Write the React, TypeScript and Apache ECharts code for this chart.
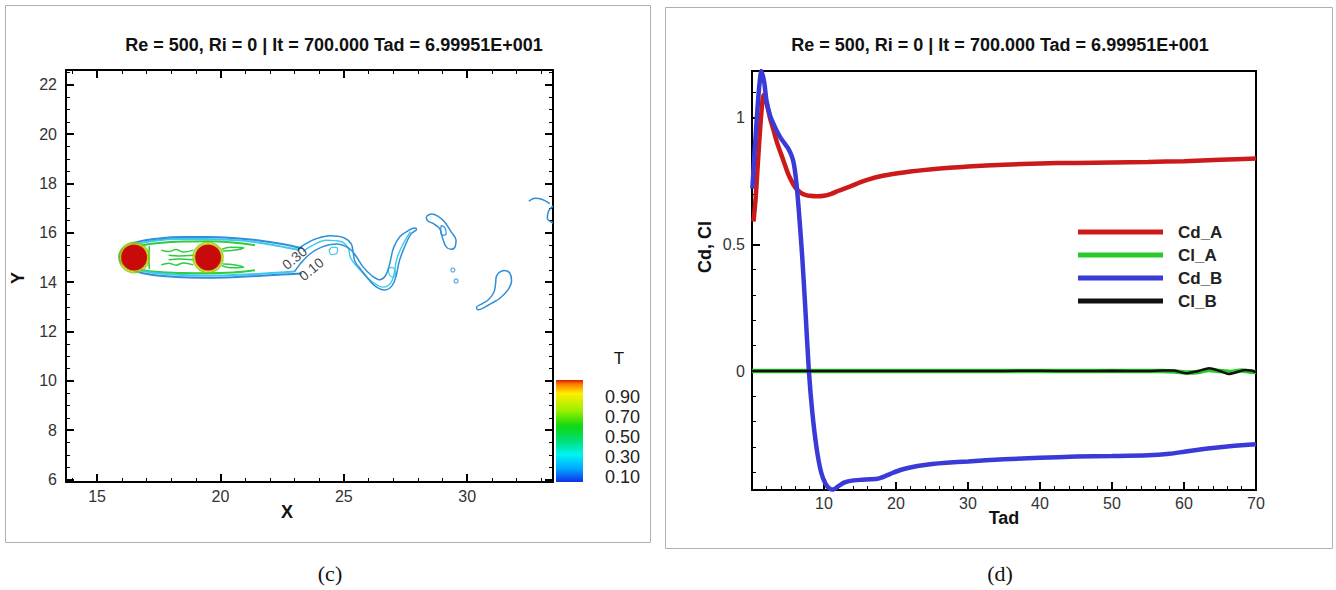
import React, { useEffect, useRef } from 'react';
import * as echarts from 'echarts';

const FONT = "'Liberation Sans', Arial, sans-serif";
const TITLE = 'Re = 500, Ri = 0 | It = 700.000 Tad = 6.99951E+001';

// ---------- panel (c): contour plot ----------
const xMajorL = [15, 20, 25, 30];
const xMinorL = [14, 16, 17, 18, 19, 21, 22, 23, 24, 26, 27, 28, 29, 31, 32, 33];
const yMajorL = [6, 8, 10, 12, 14, 16, 18, 20, 22];
const yMinorL = [6.5, 7, 7.5, 8.5, 9, 9.5, 10.5, 11, 11.5, 12.5, 13, 13.5, 14.5, 15, 15.5, 16.5, 17, 17.5, 18.5, 19, 19.5, 20.5, 21, 21.5, 22.5];

const cylinders = [[16.5, 15], [19.5, 15]];

const env01 = [[23.3, 15.38], [22.5, 15.55], [21.5, 15.7], [20.5, 15.79], [19.5, 15.83], [18.5, 15.83], [17.5, 15.77], [16.6, 15.62], [16.1, 15.38], [15.9, 15.05], [16.0, 14.75], [16.4, 14.5], [17.2, 14.3], [18.5, 14.2], [19.5, 14.18], [20.5, 14.2], [21.5, 14.25], [22.5, 14.31], [23.3, 14.35]];
const env03 = [[23.2, 15.3], [22.3, 15.48], [21.3, 15.64], [20.3, 15.72], [19.3, 15.75], [18.3, 15.75], [17.4, 15.69], [16.6, 15.54], [16.15, 15.33], [15.98, 15.05], [16.07, 14.78], [16.45, 14.57], [17.2, 14.39], [18.5, 14.29], [19.5, 14.27], [20.5, 14.29], [21.5, 14.33], [22.4, 14.39], [23.0, 14.43]];
const env05 = [[21.4, 15.5], [20.5, 15.61], [19.5, 15.66], [18.5, 15.65], [17.5, 15.59], [16.7, 15.47], [16.2, 15.27], [16.06, 15.0], [16.16, 14.73], [16.6, 14.53], [17.5, 14.41], [18.5, 14.37], [19.5, 14.36], [20.5, 14.39], [21.4, 14.48]];
const gapLine = [[17.12, 15.46], [17.1, 15.0], [17.12, 14.54]];
const lobeUp = [[17.6, 15.3], [17.9, 15.24], [18.2, 15.32], [18.5, 15.22], [18.9, 15.3]];
const midUp = [[17.9, 15.09], [18.3, 15.06], [18.9, 15.09]];
const midDn = [[17.9, 14.91], [18.3, 14.94], [18.9, 14.91]];
const lobeDn = [[17.6, 14.7], [17.9, 14.77], [18.2, 14.69], [18.5, 14.78], [18.9, 14.7]];
const earUp = [[20.05, 15.33], [20.4, 15.42], [20.95, 15.4], [20.6, 15.3], [20.1, 15.26]];
const earDn = [[20.05, 14.67], [20.4, 14.58], [20.95, 14.6], [20.6, 14.7], [20.1, 14.74]];

const snake01 = [[23.14, 15.33], [23.45, 15.55], [23.85, 15.75], [24.45, 15.88], [25.0, 15.8], [25.3, 15.55], [25.38, 15.2], [25.45, 14.85], [25.7, 14.5], [26.0, 14.12], [26.3, 13.82], [26.65, 13.68], [26.95, 13.85], [27.12, 14.25], [27.25, 14.85], [27.45, 15.4], [27.72, 15.95], [27.95, 16.15], [27.88, 16.2], [27.6, 16.08], [27.28, 15.85], [27.02, 15.4], [26.85, 14.7], [26.68, 14.25], [26.45, 14.1], [26.15, 14.25], [25.78, 14.62], [25.5, 15.05], [25.2, 15.38], [24.7, 15.55], [24.1, 15.42], [23.6, 15.12], [23.2, 14.7], [23.0, 14.42]];
const snake03 = [[23.35, 15.25], [23.75, 15.5], [24.3, 15.7], [24.9, 15.64], [25.17, 15.4], [25.27, 15.0], [25.47, 14.7], [25.82, 14.33], [26.2, 13.98], [26.6, 13.8], [26.9, 13.96], [27.05, 14.4], [27.15, 14.95], [27.38, 15.5], [27.7, 16.05]];
const snakeLoop1 = [[24.4, 15.3], [24.55, 15.42], [24.75, 15.35], [24.7, 15.15], [24.5, 15.12], [24.4, 15.3]];
const snakeLoop2 = [[26.8, 14.55], [26.95, 14.6], [27.1, 14.4], [27.0, 14.2], [26.85, 14.3], [26.8, 14.55]];
const comma = [[28.34, 16.65], [28.54, 16.76], [28.81, 16.68], [29.08, 16.45], [29.35, 16.04], [29.55, 15.7], [29.51, 15.43], [29.35, 15.33], [29.15, 15.43], [29.01, 15.77], [28.88, 16.18], [28.61, 16.38], [28.4, 16.49], [28.34, 16.65]];
const commaInner = [[28.95, 16.3], [29.1, 16.2], [29.15, 15.95], [29.0, 15.9], [28.93, 16.1], [28.95, 16.3]];
const blob = [[31.3, 14.4], [31.5, 14.47], [31.72, 14.38], [31.8, 14.06], [31.66, 13.7], [31.34, 13.36], [31.0, 13.15], [30.72, 12.99], [30.45, 12.88], [30.38, 12.98], [30.6, 13.12], [30.87, 13.3], [31.08, 13.58], [31.15, 13.92], [31.18, 14.22], [31.3, 14.4]];
const edgeA = [[32.5, 17.28], [32.75, 17.4], [33.05, 17.35], [33.35, 17.18]];
const edgeB = [[33.48, 17.08], [33.3, 16.88], [33.25, 16.6], [33.48, 16.4]];
const specks = [[29.42, 14.49], [29.55, 14.05]];
const contourLabels = [{ name: '0.30', x: 23.0, y: 14.98 }, { name: '0.10', x: 23.68, y: 14.53 }];
const cbarLabels = [0.9, 0.7, 0.5, 0.3, 0.1];

// ---------- panel (d): force coefficients ----------
const tadCdA = [0.2, 0.5, 0.9, 1.3, 1.6, 2.0, 2.5, 3.0, 3.5, 4.0, 4.5, 5.0, 5.5, 6.0, 6.5, 7.0, 7.5, 8.0, 9.0, 10.0, 11.0, 12.0, 13.0, 14.0, 15.0, 16.0, 18.0, 20.0, 22.0, 25.0, 28.0, 30.0, 35.0, 40.0, 45.0, 50.0, 55.0, 60.0, 65.0, 70.0];
const cdA = [0.59, 0.68, 0.86, 1.02, 1.09, 1.06, 1.0, 0.95, 0.9, 0.86, 0.82, 0.78, 0.75, 0.725, 0.71, 0.7, 0.695, 0.692, 0.69, 0.692, 0.7, 0.712, 0.722, 0.733, 0.745, 0.755, 0.77, 0.78, 0.788, 0.797, 0.804, 0.808, 0.815, 0.82, 0.822, 0.824, 0.826, 0.829, 0.834, 0.839];
const tadCdB = [0.05, 0.3, 0.6, 0.9, 1.1, 1.3, 1.7, 2.0, 2.5, 3.0, 3.5, 4.0, 4.5, 5.0, 5.5, 5.8, 6.1, 6.4, 6.7, 7.0, 7.4, 7.9, 8.4, 9.0, 9.6, 10.2, 10.8, 11.3, 12.0, 12.7, 13.5, 15.0, 16.5, 17.5, 18.5, 19.5, 20.5, 21.5, 23.0, 25.0, 27.0, 30.0, 35.0, 40.0, 45.0, 50.0, 55.0, 58.0, 60.0, 62.0, 64.0, 66.0, 68.0, 70.0];
const cdB = [0.72, 0.84, 0.97, 1.09, 1.15, 1.185, 1.14, 1.07, 1.01, 0.975, 0.945, 0.92, 0.9, 0.88, 0.85, 0.82, 0.76, 0.67, 0.56, 0.44, 0.25, 0.0, -0.17, -0.31, -0.4, -0.445, -0.465, -0.468, -0.455, -0.442, -0.435, -0.43, -0.428, -0.425, -0.415, -0.403, -0.392, -0.384, -0.375, -0.367, -0.362, -0.357, -0.349, -0.343, -0.338, -0.336, -0.333, -0.327, -0.319, -0.311, -0.304, -0.298, -0.293, -0.289];
const tadClA = [0, 10, 20, 30, 40, 50, 55, 57, 59, 60.5, 62, 63.5, 65, 66.5, 68, 69, 70];
const clA = [0, 0, 0, 0, 0, 0, 0, 0, -0.003, -0.006, -0.004, 0.004, 0.0, -0.004, 0.002, -0.002, -0.004];
const tadClB = [0, 10, 20, 30, 40, 45, 50, 55, 57, 58.5, 60.3, 62, 63.5, 65, 66.2, 67.5, 68.5, 69.3, 70];
const clB = [0, 0, 0, 0, 0.001, 0, 0.001, 0, 0.002, 0.002, -0.009, 0.0, 0.011, 0.0, -0.012, -0.003, 0.004, 0.002, -0.004];
const yMajorR = [0, 0.5, 1];
const yMinorR = [-0.4, -0.3, -0.2, -0.1, 0.1, 0.2, 0.3, 0.4, 0.6, 0.7, 0.8, 0.9, 1.1];
const seriesNames = ['Cd_A', 'Cl_A', 'Cd_B', 'Cl_B'];
const seriesColors = ['#cc1a1a', '#2bc82b', '#3a3ad8', '#111111'];

const pair = (t: number[], v: number[]) => t.map((x, i) => [x, v[i]]);

function xAx(grid: number, min: number, max: number, pos: string, values: number[] | null, len: number, w: number, labels: boolean, line: boolean, extra: any = {}) {
  return {
    type: 'value', gridIndex: grid, min, max, position: pos,
    axisLine: { show: line, onZero: false, lineStyle: { color: '#000', width: 2 } },
    axisTick: { show: true, inside: true, length: len, ...(values ? { customValues: values } : {}), lineStyle: { color: '#000', width: w } },
    axisLabel: labels ? { show: true, ...(values ? { customValues: values } : {}), fontSize: 16, color: '#333', margin: 6, fontFamily: FONT } : { show: false },
    splitLine: { show: false },
    ...extra,
  };
}

function contour(data: number[][], color: string, width = 1.5) {
  return {
    type: 'line', xAxisIndex: 0, yAxisIndex: 0, data, showSymbol: false, smooth: 0.4,
    lineStyle: { color, width }, itemStyle: { color }, silent: true, z: 3,
  };
}

const BLUE = '#2f8fd8';
const CYAN = '#3ec8ea';
const GREEN = '#2ecc40';

export default function App() {
  const ref = useRef<HTMLDivElement>(null);
  useEffect(() => {
    const chart = echarts.init(ref.current!, null, { renderer: 'svg' });
    const cbY = (v: number) => 477 - (v - 0.1) * 100;
    const txt = (x: number, y: number, text: string, size: number, bold: boolean, extra: any = {}) => ({
      type: 'text', x, y, ...extra,
      style: { text, fontSize: size, fontWeight: bold ? 'bold' : 'normal', fontFamily: FONT, fill: '#111', textAlign: 'center', align: 'center', textVerticalAlign: 'middle', verticalAlign: 'middle' },
    });
    const option: any = {
      animation: false,
      backgroundColor: '#fff',
      textStyle: { fontFamily: FONT },
      grid: [
        { left: 66, top: 70, width: 487, height: 412, show: false },
        { left: 752, top: 71, width: 504, height: 419, show: true, borderColor: '#000', borderWidth: 2, backgroundColor: 'transparent' },
      ],
      xAxis: [
        xAx(0, 13.74, 33.48, 'bottom', xMajorL, 8, 2, true, true),
        xAx(0, 13.74, 33.48, 'bottom', xMinorL, 4, 1, false, false),
        xAx(0, 13.74, 33.48, 'top', xMajorL, 8, 2, false, true),
        xAx(0, 13.74, 33.48, 'top', xMinorL, 4, 1, false, false),
        {
          type: 'value', gridIndex: 1, min: 0, max: 70, interval: 10, position: 'bottom',
          axisLine: { show: true, onZero: false, lineStyle: { color: '#000', width: 2 } },
          axisTick: { show: true, inside: true, length: 8, lineStyle: { color: '#000', width: 2 } },
          minorTick: { show: true, splitNumber: 5, length: 4, lineStyle: { color: '#000', width: 1 } },
          axisLabel: { fontSize: 16, color: '#333', margin: 5, fontFamily: FONT, formatter: (v: number) => (v === 0 ? '' : String(v)) },
          splitLine: { show: false },
        },
      ],
      yAxis: [
        { ...xAx(0, 5.9, 22.6, 'left', yMajorL, 8, 2, true, true), axisLabel: { customValues: yMajorL, fontSize: 16, color: '#333', margin: 9, fontFamily: FONT } },
        xAx(0, 5.9, 22.6, 'left', yMinorL, 4, 1, false, false),
        xAx(0, 5.9, 22.6, 'right', yMajorL, 8, 2, false, true),
        xAx(0, 5.9, 22.6, 'right', yMinorL, 4, 1, false, false),
        { ...xAx(1, -0.47, 1.185, 'left', yMajorR, 8, 2, true, true), axisLabel: { customValues: yMajorR, fontSize: 16, color: '#333', margin: 7, fontFamily: FONT, formatter: (v: number) => String(v) } },
        xAx(1, -0.47, 1.185, 'left', yMinorR, 4, 1, false, false),
      ],
      legend: {
        data: seriesNames, orient: 'vertical', left: 1073, top: 218,
        icon: 'rect', itemWidth: 85, itemHeight: 5, itemGap: 5,
        textStyle: { fontSize: 17, fontWeight: 'bold', color: '#222', fontFamily: FONT, lineHeight: 18, padding: [0, 0, 0, 10] },
        selectedMode: false,
      },
      series: [
        contour(env05, GREEN, 2),
        contour(gapLine, GREEN),
        contour(lobeUp, GREEN),
        contour(midUp, GREEN),
        contour(midDn, GREEN),
        contour(lobeDn, GREEN),
        contour(earUp, GREEN),
        contour(earDn, GREEN),
        contour(env03, CYAN, 2),
        contour(env01, BLUE, 2),
        contour(snake03, CYAN, 1.4),
        contour(snakeLoop1, CYAN, 1.2),
        contour(snakeLoop2, CYAN, 1.2),
        contour(snake01, BLUE, 1.5),
        contour(comma, BLUE, 1.5),
        contour(commaInner, BLUE, 1.2),
        contour(blob, BLUE, 1.5),
        contour(edgeA, BLUE, 1.5),
        contour(edgeB, BLUE, 1.5),
        {
          type: 'scatter', xAxisIndex: 0, yAxisIndex: 0, data: specks, symbol: 'circle', symbolSize: 4,
          itemStyle: { color: 'transparent', borderColor: BLUE, borderWidth: 1.2 }, silent: true, z: 3,
        },
        {
          type: 'scatter', xAxisIndex: 0, yAxisIndex: 0, data: cylinders, symbolSize: 30,
          itemStyle: { color: 'transparent', borderColor: '#7ad000', borderWidth: 1.5 }, silent: true, z: 4,
        },
        {
          type: 'scatter', xAxisIndex: 0, yAxisIndex: 0, data: cylinders, symbolSize: 27,
          itemStyle: { color: '#c80a0a', borderColor: '#d8c000', borderWidth: 1.2, opacity: 1 }, silent: true, z: 5,
        },
        {
          type: 'scatter', xAxisIndex: 0, yAxisIndex: 0, symbolSize: 0, silent: true, z: 6,
          data: contourLabels.map((d) => ({ name: d.name, value: [d.x, d.y] })),
          label: { show: true, position: 'inside', formatter: '{b}', rotate: 40, fontSize: 14, color: '#111', fontFamily: FONT },
        },
        ...[pair(tadCdA, cdA), pair(tadClA, clA), pair(tadCdB, cdB), pair(tadClB, clB)].map((d, i) => ({
          name: seriesNames[i], type: 'line', xAxisIndex: 4, yAxisIndex: 4, data: d,
          showSymbol: false, smooth: 0.25, z: 3 + i,
          lineStyle: { color: seriesColors[i], width: i === 3 ? 2.5 : 4.5 },
          itemStyle: { color: seriesColors[i] },
        })),
      ],
      graphic: [
        { type: 'rect', shape: { x: 5.5, y: 5.5, width: 645, height: 537 }, style: { fill: 'none', stroke: '#b0b0b0', lineWidth: 1 }, silent: true },
        { type: 'rect', shape: { x: 665.5, y: 7.5, width: 667, height: 541 }, style: { fill: 'none', stroke: '#b0b0b0', lineWidth: 1 }, silent: true },
        txt(334, 45, TITLE, 18, true),
        txt(1000, 45, TITLE, 18, true),
        txt(287, 512, 'X', 18, true),
        txt(18, 278, 'Y', 18, true, { rotation: Math.PI / 2 }),
        txt(1004, 518, 'Tad', 18, true),
        txt(705, 247, 'Cd, Cl', 18, true, { rotation: Math.PI / 2 }),
        {
          type: 'rect', shape: { x: 556, y: 380, width: 27, height: 102 }, silent: true,
          style: {
            fill: new echarts.graphic.LinearGradient(0, 0, 0, 1, [
              { offset: 0, color: '#d81a00' }, { offset: 0.04, color: '#ff7a00' }, { offset: 0.13, color: '#ffee00' },
              { offset: 0.3, color: '#9cf000' }, { offset: 0.45, color: '#10d810' }, { offset: 0.6, color: '#00e078' },
              { offset: 0.73, color: '#00f4f4' }, { offset: 0.87, color: '#00a8ff' }, { offset: 1, color: '#1030e8' },
            ]),
          },
        },
        txt(619, 358, 'T', 17, false),
        ...cbarLabels.map((v) => ({
          type: 'text', x: 640, y: cbY(v),
          style: { text: v.toFixed(2), fontSize: 18, fontFamily: FONT, fill: '#222', textAlign: 'right', align: 'right', textVerticalAlign: 'middle', verticalAlign: 'middle' },
        })),
        { type: 'text', x: 330, y: 573, style: { text: '(c)', fontSize: 22, fontFamily: "'Liberation Serif', 'Times New Roman', serif", fill: '#111', textAlign: 'center', align: 'center', textVerticalAlign: 'middle', verticalAlign: 'middle' } },
        { type: 'text', x: 1000, y: 573, style: { text: '(d)', fontSize: 22, fontFamily: "'Liberation Serif', 'Times New Roman', serif", fill: '#111', textAlign: 'center', align: 'center', textVerticalAlign: 'middle', verticalAlign: 'middle' } },
      ],
    };
    chart.setOption(option);
    return () => chart.dispose();
  }, []);
  return <div ref={ref} style={{ position: 'fixed', left: 0, top: 0, width: 1336, height: 590, background: '#fff' }} />;
}
